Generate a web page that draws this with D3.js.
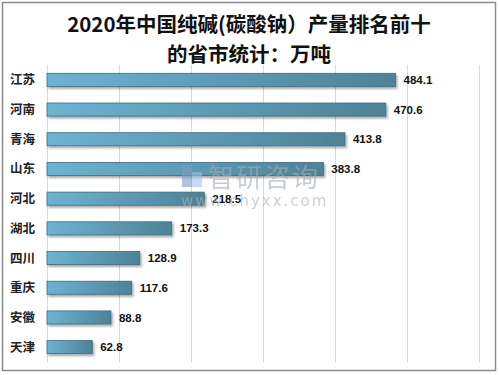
<!DOCTYPE html>
<html>
<head>
<meta charset="utf-8">
<script src="https://cdn.jsdelivr.net/npm/d3@7"></script>
<style>
  body { margin: 0; background: #fff; }
  svg { display: block; }
</style>
</head>
<body>
<svg width="499" height="375"></svg>
<script>
// Data
const provinces = ['江苏', '河南', '青海', '山东', '河北', '湖北', '四川', '重庆', '安徽', '天津'];
const output = [484.1, 470.6, 413.8, 383.8, 218.5, 173.3, 128.9, 117.6, 88.8, 62.8];
const gridTicks = [0, 100, 200, 300, 400, 500, 600];
const titleLines = ['2020年中国纯碱(碳酸钠）产量排名前十', '的省市统计：万吨'];

const svg = d3.select('svg');
const cjk = '"Noto Sans CJK SC", "Noto Sans", sans-serif';

// outer frame
svg.append('rect')
  .attr('x', 2.5).attr('y', 2.5)
  .attr('width', 493).attr('height', 368)
  .attr('fill', 'none')
  .attr('stroke', '#8c8c8c')
  .attr('stroke-width', 1.5);

// scales
const x = d3.scaleLinear().domain([0, 600]).range([47, 479]);
const y = d3.scaleBand().domain(provinces).range([65, 362]).paddingInner(0.56).paddingOuter(0.28);

// gradient for bars
const defs = svg.append('defs');
const grad = defs.append('linearGradient').attr('id', 'barGrad')
  .attr('x1', '0%').attr('x2', '100%').attr('y1', '0%').attr('y2', '0%');
grad.append('stop').attr('offset', '0%').attr('stop-color', '#6cb4d3');
grad.append('stop').attr('offset', '100%').attr('stop-color', '#4e8297');

const shadow = defs.append('filter').attr('id', 'shadow')
  .attr('x', '-5%').attr('y', '-30%').attr('width', '115%').attr('height', '180%');
shadow.append('feDropShadow')
  .attr('dx', 1.5).attr('dy', 2).attr('stdDeviation', 1.2)
  .attr('flood-color', '#000').attr('flood-opacity', 0.35);

// vertical gridlines
svg.append('g')
  .selectAll('line')
  .data(gridTicks)
  .join('line')
  .attr('x1', d => x(d) + 0.5).attr('x2', d => x(d) + 0.5)
  .attr('y1', 65).attr('y2', 362)
  .attr('stroke', '#d9d9d9')
  .attr('stroke-width', 1);

// title
svg.append('g')
  .selectAll('text')
  .data(titleLines)
  .join('text')
  .attr('x', 249)
  .attr('y', (d, i) => 32 + i * 30)
  .attr('text-anchor', 'middle')
  .attr('font-family', cjk)
  .attr('font-size', 20.5)
  .attr('font-weight', 'bold')
  .attr('fill', '#111')
  .text(d => d);

// bars
svg.append('g')
  .selectAll('rect')
  .data(provinces)
  .join('rect')
  .attr('x', x(0))
  .attr('y', d => y(d))
  .attr('width', (d, i) => x(output[i]) - x(0))
  .attr('height', y.bandwidth())
  .attr('fill', 'url(#barGrad)')
  .attr('stroke', '#3e6b7d')
  .attr('stroke-width', 0.8)
  .attr('filter', 'url(#shadow)');

// category labels
svg.append('g')
  .selectAll('text')
  .data(provinces)
  .join('text')
  .attr('x', 10)
  .attr('y', d => y(d) + y.bandwidth() / 2)
  .attr('dy', '0.36em')
  .attr('font-family', cjk)
  .attr('font-size', 12.5)
  .attr('font-weight', 'bold')
  .attr('fill', '#222')
  .text(d => d);

// value labels
svg.append('g')
  .selectAll('text')
  .data(provinces)
  .join('text')
  .attr('x', (d, i) => x(output[i]) + 8)
  .attr('y', d => y(d) + y.bandwidth() / 2)
  .attr('dy', '0.36em')
  .attr('font-family', '"Liberation Sans", Arial, sans-serif')
  .attr('font-size', 11.5)
  .attr('font-weight', 'bold')
  .attr('fill', '#111')
  .text((d, i) => output[i].toFixed(1));

// watermark, drawn over the bars
const wm = svg.append('g').attr('opacity', 0.6);
wm.append('text')
  .attr('x', 208).attr('y', 187)
  .attr('font-family', cjk).attr('font-size', 26)
  .attr('fill', '#a3abb6')
  .attr('letter-spacing', 2)
  .text('智研咨询');
wm.append('rect').attr('x', 182).attr('y', 165).attr('width', 10).attr('height', 22).attr('fill', '#7e9bc4');
wm.append('rect').attr('x', 192).attr('y', 172).attr('width', 10).attr('height', 15).attr('fill', '#9fc0e6');
wm.append('text')
  .attr('x', 181).attr('y', 206)
  .attr('font-family', '"DejaVu Sans", sans-serif').attr('font-size', 15)
  .attr('fill', '#a9b0ba')
  .attr('letter-spacing', 2)
  .text('www.chyxx.com');
</script>
</body>
</html>
